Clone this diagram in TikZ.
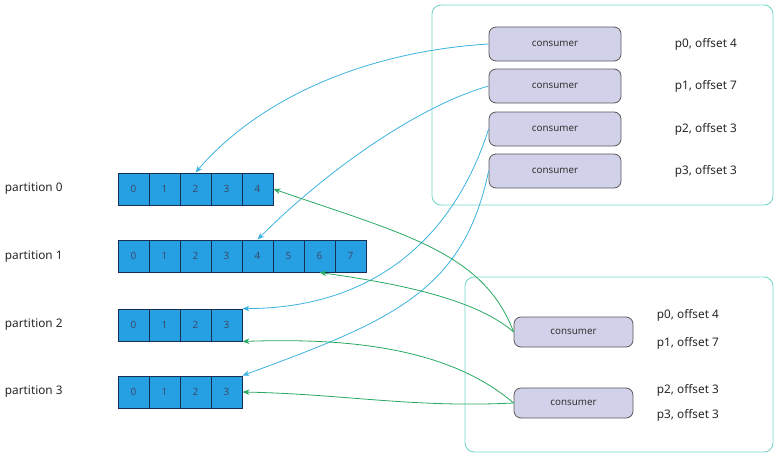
\documentclass[tikz,border=0pt]{standalone}
\usepackage{fontspec}
\setmainfont{Noto Sans}
\usetikzlibrary{arrows.meta}

\definecolor{cellblue}{RGB}{38,160,226}
\definecolor{celledge}{RGB}{24,44,84}
\definecolor{lavender}{RGB}{209,209,234}
\definecolor{groupteal}{RGB}{120,214,200}
\definecolor{readblue}{RGB}{60,178,222}
\definecolor{readgreen}{RGB}{40,168,96}

\tikzset{
  cell/.style={draw=celledge,line width=0.9pt,fill=cellblue,minimum width=31pt,minimum height=32pt,inner sep=0pt,font=\fontsize{10}{12}\selectfont,text=celledge!85},
  consumer/.style={draw=black!65,line width=0.8pt,fill=lavender,rounded corners=7pt,inner sep=0pt,font=\fontsize{9.8}{12}\selectfont,text=black!80},
  group/.style={draw=groupteal,line width=0.9pt,rounded corners=9pt},
  plabel/.style={anchor=west,inner sep=0.75pt,font=\fontsize{11.8}{14}\selectfont,text=black!85},
  olabel/.style={anchor=west,inner sep=0.75pt,font=\fontsize{11.8}{14}\selectfont,text=black!85},
  bluearrow/.style={draw=readblue,line width=0.8pt,-{Stealth[length=7pt,width=5.5pt]}},
  greenarrow/.style={draw=readgreen,line width=0.8pt,-{Stealth[length=7pt,width=5.5pt]}}
}

\begin{document}
\begin{tikzpicture}[x=1pt,y=-1pt]
\useasboundingbox (0,0) rectangle (775,455);

%Shape: consumer groups
\draw[group] (432,5) rectangle (773,205);
\draw[group] (465,277) rectangle (773,452);

%Shape: partitions
\node[plabel] (part0) at (4,189) {partition 0};
\node[plabel] (part1) at (4,257) {partition 1};
\node[plabel] (part2) at (4,325) {partition 2};
\node[plabel] (part3) at (4,392) {partition 3};
\foreach \i in {0,...,4} \node[cell] (p0c\i) at (133.5+31*\i,189) {\i};
\foreach \i in {0,...,7} \node[cell] (p1c\i) at (133.5+31*\i,256) {\i};
\foreach \i in {0,...,3} \node[cell] (p2c\i) at (133.5+31*\i,325) {\i};
\foreach \i in {0,...,3} \node[cell] (p3c\i) at (133.5+31*\i,392) {\i};

%Shape: consumers of group A
\foreach \j/\y in {0/44,1/86,2/129,3/171}
  \node[consumer,minimum width=132pt,minimum height=34pt] (ca\j) at (555,\y) {consumer};
% Text Node
\node[olabel] (oa0) at (674,44) {p0, offset 4};
\node[olabel] (oa1) at (674,86) {p1, offset 7};
\node[olabel] (oa2) at (674,129) {p2, offset 3};
\node[olabel] (oa3) at (674,171) {p3, offset 3};

%Shape: consumers of group B
\node[consumer,minimum width=119pt,minimum height=30pt] (cb0) at (573.5,332) {consumer};
\node[consumer,minimum width=119pt,minimum height=30pt] (cb1) at (573.5,403) {consumer};
% Text Node
\node[olabel] (ob0) at (656,315) {p0, offset 4};
\node[olabel] (ob1) at (656,343) {p1, offset 7};
\node[olabel] (ob2) at (656,390) {p2, offset 3};
\node[olabel] (ob3) at (656,415) {p3, offset 3};

%Straight Lines: group A reads
\draw[bluearrow] (ca0.west) .. controls +(-130,8) and +(60,-70) .. (p0c2.north);
\draw[bluearrow] (ca1.west) .. controls +(-70,20) and +(70,-70) .. (p1c4.north);
\draw[bluearrow] (ca2.west) .. controls +(-35,110) and +(130,0) .. (p2c3.north east);
\draw[bluearrow] (ca3.west) .. controls +(-25,120) and +(150,-55) .. (p3c3.north east);

%Straight Lines: group B reads
\draw[greenarrow] (cb0.west) .. controls +(-30,-80) and +(130,45) .. (p0c4.east);
\draw[greenarrow] (cb0.west) .. controls +(-40,-35) and +(70,10) .. (p1c6.south);
\draw[greenarrow] (cb1.west) .. controls +(-70,-60) and +(90,-3) .. (p2c3.south east);
\draw[greenarrow] (cb1.west) .. controls +(-100,5) and +(100,2) .. (p3c3.east);

\end{tikzpicture}
\end{document}
